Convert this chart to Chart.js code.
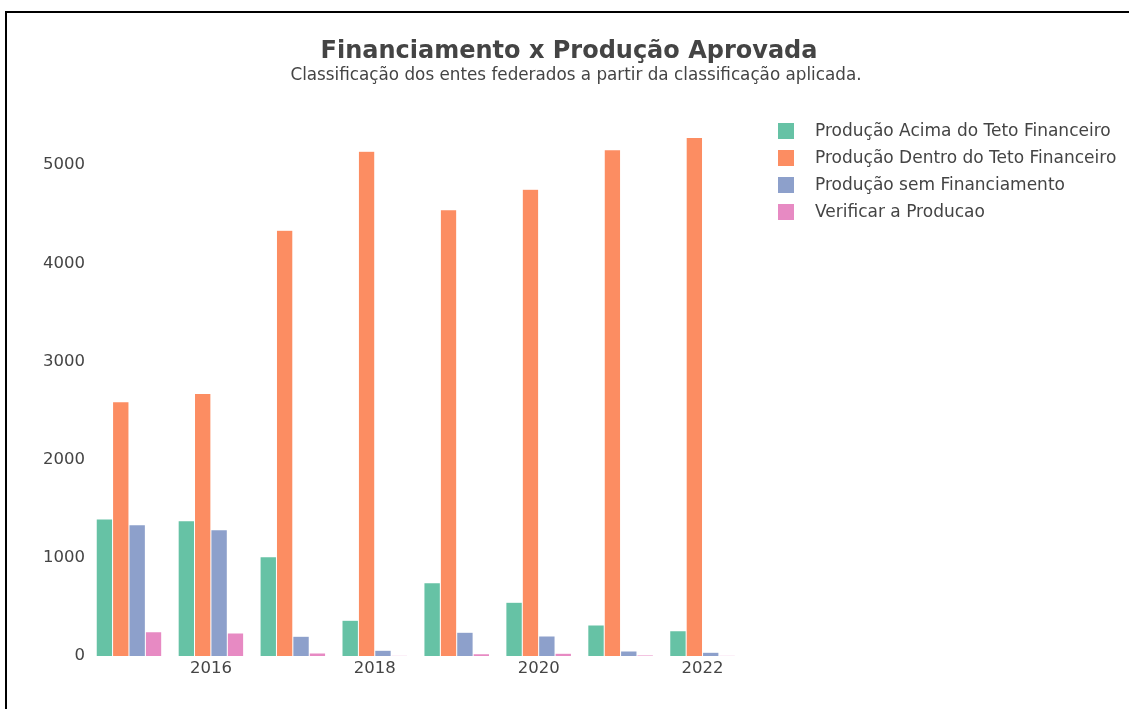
<!DOCTYPE html>
<html>
<head>
<meta charset="utf-8">
<script src="https://cdn.jsdelivr.net/npm/chart.js@4.4.0/dist/chart.umd.min.js"></script>
<style>
  html, body { margin: 0; padding: 0; background: #fff; }
  #frame { position: absolute; left: 5px; top: 11px; width: 1124px; height: 698px;
           border-left: 2px solid #000; border-top: 2px solid #000; box-sizing: border-box; }
  #wrap { position: absolute; left: 7px; top: 13px; width: 1122px; height: 696px; }
</style>
</head>
<body>
<div id="frame"></div>
<div id="wrap"><canvas id="c"></canvas></div>
<script>
const years = ['2015', '2016', '2017', '2018', '2019', '2020', '2021', '2022'];
const seriesNames = [
  'Produção Acima do Teto Financeiro',
  'Produção Dentro do Teto Financeiro',
  'Produção sem Financiamento',
  'Verificar a Producao'
];
const acimaTeto   = [1395, 1378, 1010, 364, 745, 548, 316, 258];
const dentroTeto  = [2589, 2673, 4337, 5140, 4545, 4755, 5157, 5282];
const semFinanc   = [1337, 1286, 201, 58, 242, 204, 51, 38];
const verificar   = [248, 235, 31, 5, 23, 27, 10, 4];
const yTicks = [0, 1000, 2000, 3000, 4000, 5000];
const xTickLabels = ['2016', '2018', '2020', '2022'];
const titleText = 'Financiamento x Produção Aprovada';
const subtitleText = 'Classificação dos entes federados a partir da classificação aplicada.';

const colors = ['#66c2a5', '#fc8d62', '#8da0cb', '#e78ac3'];
const values = [acimaTeto, dentroTeto, semFinanc, verificar];

const textColor = '#444';
const font = 'DejaVu Sans';

const decorPlugin = {
  id: 'decor',
  afterDraw(chart) {
    const ctx = chart.ctx;
    ctx.save();
    ctx.fillStyle = textColor;
    ctx.textAlign = 'center';
    ctx.textBaseline = 'middle';
    ctx.font = 'bold 24px "' + font + '"';
    ctx.fillText(titleText, 562, 39);
    ctx.font = '16.8px "' + font + '"';
    ctx.fillText(subtitleText, 569, 63);
    // legend
    ctx.textAlign = 'left';
    ctx.font = '17px "' + font + '"';
    chart.data.datasets.forEach((ds, i) => {
      const y = 118 + i * 27;
      ctx.fillStyle = ds.backgroundColor;
      ctx.fillRect(771, y - 8, 16, 16);
      ctx.fillStyle = textColor;
      ctx.fillText(ds.label, 808, y + 1);
    });
    ctx.restore();
  }
};

new Chart(document.getElementById('c'), {
  type: 'bar',
  data: {
    labels: years,
    datasets: seriesNames.map((name, i) => ({
      label: name,
      data: values[i],
      backgroundColor: colors[i],
      borderColor: 'rgba(255,255,255,0.3)',
      borderWidth: 0.5,
      categoryPercentage: 0.8,
      barPercentage: 1.0
    }))
  },
  options: {
    responsive: true,
    maintainAspectRatio: false,
    animation: false,
    layout: { padding: { top: 103, right: 385.5, bottom: 13, left: 0 } },
    plugins: {
      legend: { display: false },
      title: { display: false },
      tooltip: { enabled: false }
    },
    scales: {
      x: {
        grid: { display: false, drawTicks: false },
        border: { display: false },
        ticks: {
          color: textColor,
          font: { family: font, size: 16.5 },
          padding: 3,
          autoSkip: false,
          maxRotation: 0,
          callback: function (v) {
            const lab = this.getLabelForValue(v);
            return xTickLabels.includes(lab) ? lab : '';
          }
        },
        afterFit: (s) => { s.height = 40; }
      },
      y: {
        min: 0,
        max: 5500,
        grid: { display: false, drawTicks: false },
        border: { display: false },
        ticks: {
          color: textColor,
          font: { family: font, size: 16.5 },
          padding: 3,
          callback: (v) => String(v)
        },
        afterBuildTicks: (s) => { s.ticks = yTicks.map(v => ({ value: v })); },
        afterFit: (s) => { s.width = 81; }
      }
    }
  },
  plugins: [decorPlugin]
});
</script>
</body>
</html>
